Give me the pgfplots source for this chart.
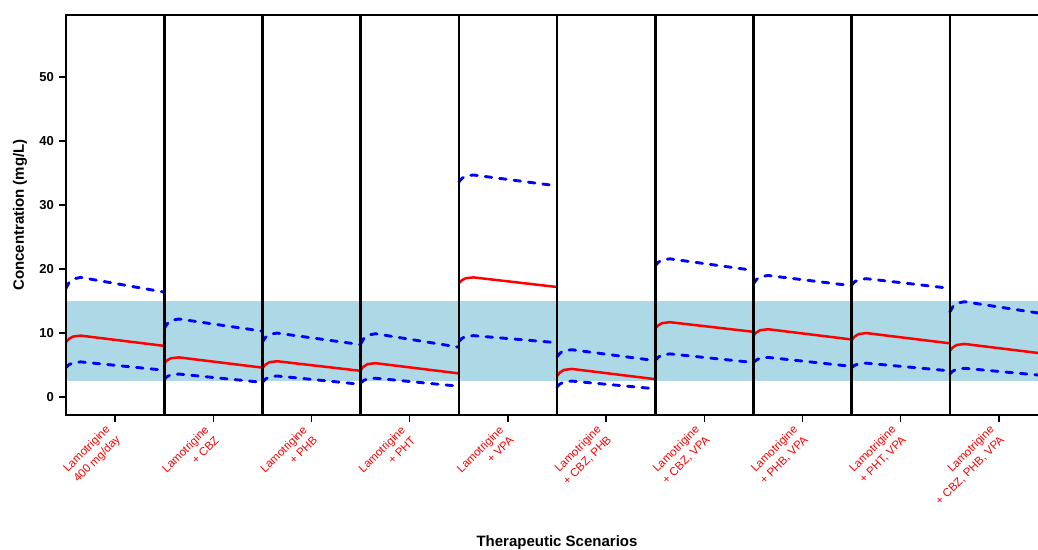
\documentclass[border=0pt]{standalone}
\usepackage{pgfplots}
\usepackage{pgfplotstable}
\pgfplotsset{compat=1.18}
\usepackage{fontspec}
\setmainfont{Liberation Sans}

\definecolor{bandblue}{HTML}{ADD8E6}

% Median concentration profile within each scenario (scenario i spans x = i..i+1)
\pgfplotstableread{
x y
0 8.6
0.03 9.1
0.07 9.45
0.15 9.6
1 8.0
nan nan
1 5.3
1.03 5.75
1.07 6.07
1.15 6.2
2 4.6
nan nan
2 4.5
2.03 5.05
2.07 5.44
2.15 5.6
3 4.1
nan nan
3 4.2
3.03 4.75
3.07 5.14
3.15 5.3
4 3.7
nan nan
4 17.8
4.03 18.25
4.07 18.57
4.15 18.7
5 17.2
nan nan
5 3.3
5.03 3.85
5.07 4.24
5.15 4.4
6 2.8
nan nan
6 10.7
6.03 11.2
6.07 11.55
6.15 11.7
7 10.2
nan nan
7 9.6
7.03 10.1
7.07 10.45
7.15 10.6
8 9.0
nan nan
8 8.9
8.03 9.45
8.07 9.84
8.15 10.0
9 8.4
nan nan
9 7.2
9.03 7.75
9.07 8.14
9.15 8.3
10 6.7
}\mediantab

% Upper bound of the prediction interval
\pgfplotstableread{
x y
0 17.0
0.03 17.85
0.07 18.45
0.15 18.7
1 16.4
nan nan
1 10.7
1.03 11.45
1.07 11.98
1.15 12.2
2 10.3
nan nan
2 8.6
2.03 9.3
2.07 9.8
2.15 10.0
3 8.2
nan nan
3 8.3
3.03 9.1
3.07 9.66
3.15 9.9
4 7.8
nan nan
4 33.6
4.03 34.15
4.07 34.54
4.15 34.7
5 33.0
nan nan
5 6.3
5.03 6.85
5.07 7.24
5.15 7.4
6 5.7
nan nan
6 20.5
6.03 21.05
6.07 21.44
6.15 21.6
7 19.8
nan nan
7 17.7
7.03 18.35
7.07 18.8
7.15 19.0
8 17.4
nan nan
8 17.5
8.03 18.0
8.07 18.35
8.15 18.5
9 17.0
nan nan
9 13.3
9.03 14.1
9.07 14.66
9.15 14.9
10 12.9
}\uppertab

% Lower bound of the prediction interval
\pgfplotstableread{
x y
0 4.6
0.03 5.05
0.07 5.35
0.15 5.5
1 4.2
nan nan
1 2.8
1.03 3.2
1.07 3.48
1.15 3.6
2 2.3
nan nan
2 2.3
2.03 2.8
2.07 3.15
2.15 3.3
3 2.0
nan nan
3 2.2
3.03 2.58
3.07 2.84
3.15 2.95
4 1.7
nan nan
4 8.7
4.03 9.15
4.07 9.47
4.15 9.6
5 8.5
nan nan
5 1.6
5.03 2.05
5.07 2.37
5.15 2.5
6 1.3
nan nan
6 5.7
6.03 6.22
6.07 6.6
6.15 6.75
7 5.4
nan nan
7 5.4
7.03 5.8
7.07 6.08
7.15 6.2
8 4.8
nan nan
8 4.6
8.03 4.95
8.07 5.2
8.15 5.3
9 4.1
nan nan
9 3.6
9.03 4.05
9.07 4.37
9.15 4.5
10 3.3
}\lowertab

\begin{document}
\begin{tikzpicture}
\begin{axis}[
  at={(66pt,134pt)}, anchor=south west,
  scale only axis, width=982pt, height=400pt,
  xmin=0, xmax=10, ymin=-2.8, ymax=59.7,
  axis on top,
  axis line style={line width=1.5pt},
  tick align=outside, xtick pos=left, ytick pos=left,
  major tick length=7pt,
  tick style={line width=1.4pt, black},
  ytick={0,10,20,30,40,50},
  yticklabel style={font=\fontsize{13}{15}\selectfont\bfseries, inner sep=0pt, xshift=-5pt},
  /pgf/number format/assume math mode=true,
  xtick={0.5,1.5,2.5,3.5,4.5,5.5,6.5,7.5,8.5,9.5},
  xticklabels={
    {Lamotrigine\\400 mg/day},
    {Lamotrigine\\+ CBZ},
    {Lamotrigine\\+ PHB},
    {Lamotrigine\\+ PHT},
    {Lamotrigine\\+ VPA},
    {Lamotrigine\\+ CBZ, PHB},
    {Lamotrigine\\+ CBZ, VPA},
    {Lamotrigine\\+ PHB, VPA},
    {Lamotrigine\\+ PHT, VPA},
    {Lamotrigine\\+ CBZ, PHB, VPA}},
  xticklabel style={xshift=-1.5pt, yshift=-11pt, rotate=45, anchor=east,
    align=right, text=red, font=\fontsize{11.5}{14.5}\selectfont, inner sep=0pt},
  extra x ticks={1,2,3,4,5,6,7,8,9},
  extra x tick labels={},
  extra x tick style={grid=major, major tick length=0pt,
    major grid style={black, line width=2.6pt}},
  xlabel={Therapeutic Scenarios},
  ylabel={Concentration (mg/L)},
  label style={font=\fontsize{15}{18}\selectfont\bfseries},
  xlabel style={at={(axis description cs:0.5,0)}, anchor=base, yshift=-131.5pt},
  ylabel style={at={(axis description cs:-0.0468,0.5)}, anchor=center},
  unbounded coords=jump,
]
% therapeutic reference range
\addplot[fill=bandblue, draw=none, forget plot] coordinates {(0,2.5) (10,2.5) (10,15) (0,15)} -- cycle;
\addplot[blue, line width=2.9pt, line cap=round, dash pattern=on 6.5pt off 8pt] table {\uppertab};
\addplot[blue, line width=2.9pt, line cap=round, dash pattern=on 6.5pt off 8pt] table {\lowertab};
\addplot[red, line width=2.5pt] table {\mediantab};
\end{axis}
\pgfresetboundingbox
\useasboundingbox (0,0) rectangle (1038pt,549pt);
\end{tikzpicture}
\end{document}
